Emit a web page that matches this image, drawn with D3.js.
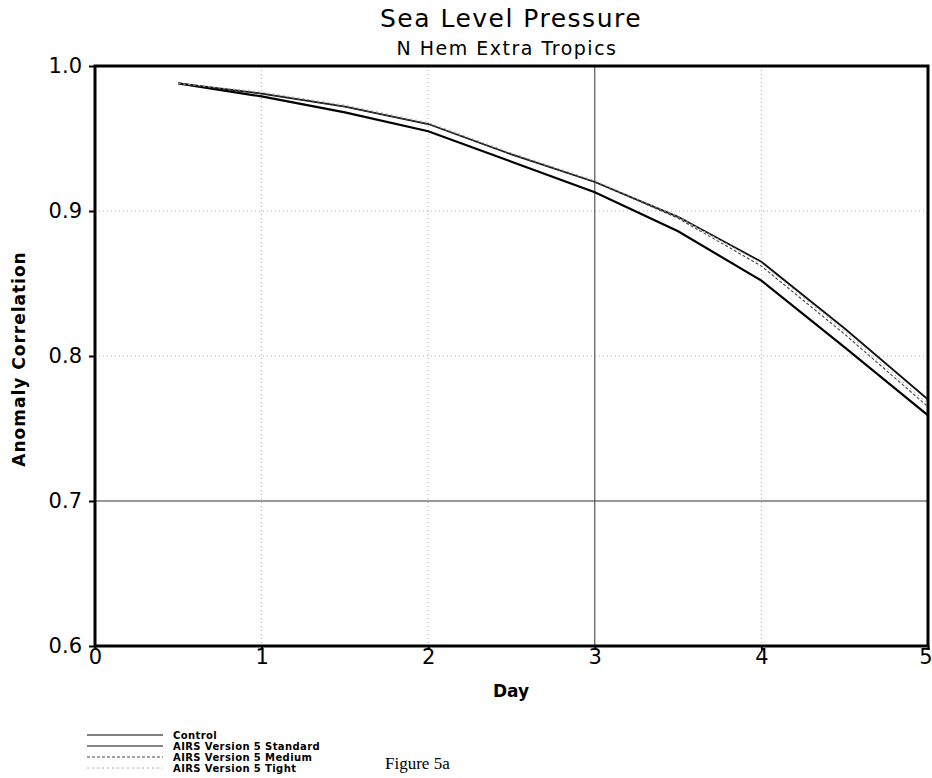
<!DOCTYPE html>
<html>
<head>
<meta charset="utf-8">
<script src="https://cdn.jsdelivr.net/npm/d3@7"></script>
<style>
body { margin: 0; background: #fff; }
text { font-family: "DejaVu Sans", Arial, sans-serif; fill: #000; }
</style>
</head>
<body>
<div id="chart"></div>
<script>
const days = [0.5, 1, 1.5, 2, 2.5, 3, 3.5, 4, 4.5, 5];
const control  = [0.988, 0.979, 0.968, 0.955, 0.934, 0.913, 0.886, 0.852, 0.806, 0.759];
const standard = [0.988, 0.981, 0.972, 0.960, 0.939, 0.920, 0.896, 0.865, 0.819, 0.770];
const medium   = [0.988, 0.981, 0.972, 0.960, 0.939, 0.920, 0.895, 0.862, 0.815, 0.765];
const tight    = [0.988, 0.982, 0.973, 0.961, 0.940, 0.921, 0.896, 0.864, 0.817, 0.767];
const series_names = ["Control", "AIRS Version 5 Standard", "AIRS Version 5 Medium", "AIRS Version 5 Tight"];
const x_ticks = [0, 1, 2, 3, 4, 5];
const y_ticks = [0.6, 0.7, 0.8, 0.9, 1.0];

const W = 932, H = 778;
const plot_l = 95, plot_r = 928, plot_t = 66, plot_b = 646;

const svg = d3.select("#chart").append("svg")
    .attr("width", W)
    .attr("height", H);

const x = d3.scaleLinear().domain([0, 5]).range([plot_l, plot_r]);
const y = d3.scaleLinear().domain([0.6, 1.0]).range([plot_b, plot_t]);

//grid lines: solid at day 3 and 0.7, dotted elsewhere
x_ticks.filter(d => d > 0 && d < 5).forEach(d => {
    svg.append("line")
        .attr("x1", x(d)).attr("x2", x(d))
        .attr("y1", plot_t).attr("y2", plot_b)
        .attr("stroke", d == 3 ? "#333" : "#999")
        .attr("stroke-width", d == 3 ? 1 : 0.8)
        .attr("stroke-dasharray", d == 3 ? null : "1,3");
});
y_ticks.filter(d => d > 0.6 && d < 1.0).forEach(d => {
    const solid = Math.abs(d - 0.7) < 1e-6;
    svg.append("line")
        .attr("x1", plot_l).attr("x2", plot_r)
        .attr("y1", y(d)).attr("y2", y(d))
        .attr("stroke", solid ? "#333" : "#999")
        .attr("stroke-width", solid ? 1 : 0.8)
        .attr("stroke-dasharray", solid ? null : "1,3");
});

//axes
const xAxis = svg.append("g")
    .attr("transform", `translate(0,${plot_b})`)
    .call(d3.axisBottom(x).tickValues(x_ticks).tickSize(4).tickFormat(d3.format("d")));
const yAxis = svg.append("g")
    .attr("transform", `translate(${plot_l},0)`)
    .call(d3.axisLeft(y).tickValues(y_ticks).tickSize(6).tickFormat(d3.format(".1f")));
[xAxis, yAxis].forEach(a => {
    a.select(".domain").remove();
    a.selectAll("line").attr("stroke", "#000").attr("stroke-width", 2);
    a.selectAll("text").style("font-size", "21px").attr("fill", "#000");
});
xAxis.selectAll("text").attr("dy", "0.5em")
    .attr("text-anchor", d => d == 5 ? "end" : "middle")
    .attr("x", d => d == 5 ? 4 : 0);
yAxis.selectAll("text").attr("dy", "0.32em").attr("x", -13);

//frame
svg.append("rect")
    .attr("x", plot_l).attr("y", plot_t)
    .attr("width", plot_r - plot_l).attr("height", plot_b - plot_t)
    .attr("fill", "none")
    .attr("stroke", "#000")
    .attr("stroke-width", 3);

//lines
const styles = [
    {color: "#000", width: 2.2, dash: null},
    {color: "#111", width: 1.8, dash: null},
    {color: "#444", width: 1.1, dash: "3,2"},
    {color: "#aaa", width: 1, dash: "2,3"}
];
const all_series = [control, standard, medium, tight];
const line = d3.line()
    .x((d, i) => x(days[i]))
    .y(d => y(d));
all_series.forEach((s, k) => {
    svg.append("path")
        .datum(s)
        .attr("d", line)
        .attr("fill", "none")
        .attr("stroke", styles[k].color)
        .attr("stroke-width", styles[k].width)
        .attr("stroke-dasharray", styles[k].dash);
});

//titles
svg.append("text")
    .attr("x", 511).attr("y", 27)
    .attr("text-anchor", "middle")
    .style("font-size", "25px")
    .style("letter-spacing", "1.5px")
    .text("Sea Level Pressure");
svg.append("text")
    .attr("x", 507).attr("y", 55)
    .attr("text-anchor", "middle")
    .style("font-size", "19px")
    .style("letter-spacing", "1.5px")
    .text("N Hem Extra Tropics");
svg.append("text")
    .attr("x", 511).attr("y", 697)
    .attr("text-anchor", "middle")
    .style("font-size", "17px")
    .style("font-weight", "bold")
    .text("Day");
svg.append("text")
    .attr("transform", "translate(25,359) rotate(-90)")
    .attr("text-anchor", "middle")
    .style("font-size", "17px")
    .style("font-weight", "bold")
    .style("letter-spacing", "1px")
    .text("Anomaly Correlation");

//legend
const legend = svg.append("g");
series_names.forEach((name, k) => {
    const ly = 735 + k * 11;
    legend.append("line")
        .attr("x1", 87).attr("x2", 163)
        .attr("y1", ly).attr("y2", ly)
        .attr("stroke", styles[k].color)
        .attr("stroke-width", k < 2 ? 1.2 : 1)
        .attr("stroke-dasharray", styles[k].dash);
    legend.append("text")
        .attr("x", 173).attr("y", ly + 4)
        .style("font-size", "10px")
        .style("font-weight", "bold")
        .style("letter-spacing", "0.4px")
        .text(name);
});

svg.append("text")
    .attr("x", 385).attr("y", 769)
    .style("font-family", "'Liberation Serif', 'Times New Roman', serif")
    .style("font-size", "17px")
    .text("Figure 5a");
</script>
</body>
</html>
